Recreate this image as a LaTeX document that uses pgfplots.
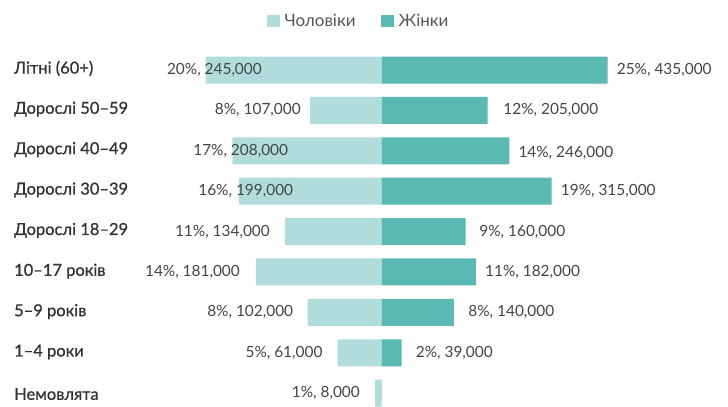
\documentclass[border=0pt]{standalone}
\usepackage{pgfplots}
\pgfplotsset{compat=1.18}
\usepackage{fontspec}
\setmainfont{Lato}
\newfontfamily\catfont[FakeBold=0.8]{Lato}
\definecolor{men}{HTML}{B0DDDB}
\definecolor{women}{HTML}{5BB9B3}
\definecolor{cat}{HTML}{333333}
\definecolor{val}{HTML}{444444}
\definecolor{leg}{HTML}{555555}
\begin{document}
\begin{tikzpicture}
\begin{axis}[
  scale only axis, width=728pt, height=406pt,
  xmin=-42.41, xmax=38.48, ymin=-1.733, ymax=8.317, y dir=reverse,
  hide axis, clip=false,
  xbar, bar width=27pt, bar shift=0pt,
  legend columns=2,
  legend style={draw=none, fill=none, at={(0.4925,0.975)}, anchor=north,
    font=\fontsize{17}{19}\selectfont, text=leg,
    /tikz/every even column/.append style={column sep=23pt},
    cells={anchor=west}},
  legend image code/.code={\fill[#1] (0pt,-6pt) rectangle (13pt,6pt); \path (13pt,0pt) -- (16pt,0pt);},
]
% men (left, negative)
\addplot[fill=men, draw=none] coordinates {
(-19.56,0) (-7.97,1) (-16.60,2) (-15.86,3) (-10.74,4) (-13.97,5) (-8.22,6) (-4.89,7) (-0.72,8)};
\addlegendentry{Чоловіки}
% women (right)
\addplot[fill=women, draw=none] coordinates {
(25.11,0) (11.78,1) (14.18,2) (18.89,3) (9.33,4) (10.48,5) (8.03,6) (2.22,7) (0,8)};
\addlegendentry{Жінки}
\path (rel axis cs:0,0) rectangle (rel axis cs:1,1);
% category labels
\begin{scope}[every node/.style={anchor=west, inner sep=0pt, text=cat, font=\catfont\fontsize{16.5}{18}\selectfont}]
\node at (axis cs:-40.86,-0.04) {Літні (60+)};
\node at (axis cs:-40.86,0.97) {Дорослі 50–59};
\node at (axis cs:-40.86,1.97) {Дорослі 40–49};
\node at (axis cs:-40.86,2.97) {Дорослі 30–39};
\node at (axis cs:-40.86,3.97) {Дорослі 18–29};
\node at (axis cs:-40.86,4.98) {10–17 років};
\node at (axis cs:-40.86,5.98) {5–9 років};
\node at (axis cs:-40.86,6.98) {1–4 роки};
\node at (axis cs:-40.86,8.02) {Немовлята};
\end{scope}
% men value labels
\begin{scope}[every node/.style={anchor=east, inner sep=0pt, text=val, font=\fontsize{15.4}{17}\selectfont}]
\node at (axis cs:-13.30,0) {20\%, 245,000};
\node at (axis cs:-8.97,1) {8\%, 107,000};
\node at (axis cs:-10.38,2) {17\%, 208,000};
\node at (axis cs:-9.82,3) {16\%, 199,000};
\node at (axis cs:-12.41,4) {11\%, 134,000};
\node at (axis cs:-15.74,5) {14\%, 181,000};
\node at (axis cs:-9.82,6) {8\%, 102,000};
\node at (axis cs:-6.56,7) {5\%, 61,000};
\node at (axis cs:-2.41,8) {1\%, 8,000};
\end{scope}
% women value labels
\begin{scope}[every node/.style={anchor=west, inner sep=0pt, text=val, font=\fontsize{15.4}{17}\selectfont}]
\node at (axis cs:26.11,0) {25\%, 435,000};
\node at (axis cs:13.51,1) {12\%, 205,000};
\node at (axis cs:15.18,2.06) {14\%, 246,000};
\node at (axis cs:19.89,3) {19\%, 315,000};
\node at (axis cs:10.84,4) {9\%, 160,000};
\node at (axis cs:11.48,5) {11\%, 182,000};
\node at (axis cs:9.62,6) {8\%, 140,000};
\node at (axis cs:3.78,7) {2\%, 39,000};
\end{scope}
\end{axis}
\end{tikzpicture}
\end{document}
